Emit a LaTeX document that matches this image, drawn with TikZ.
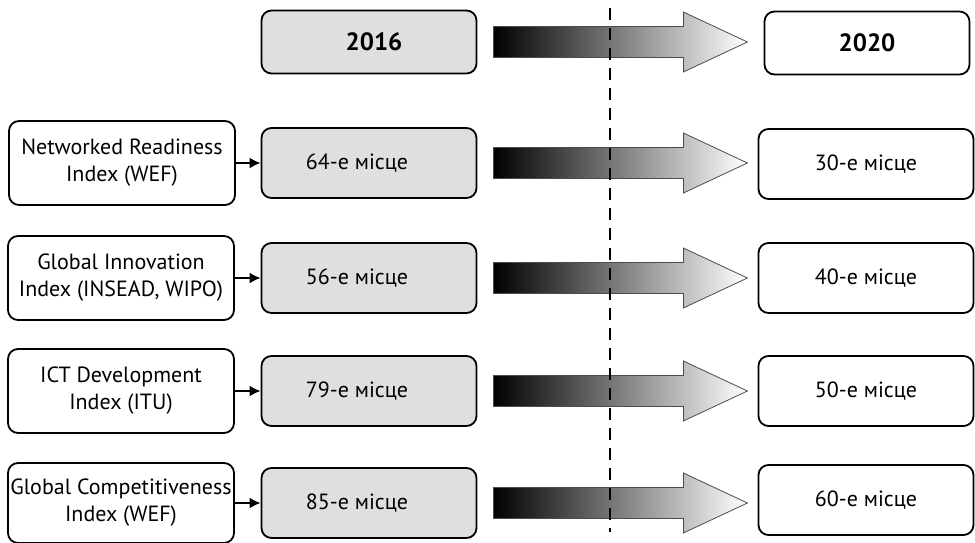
\documentclass[tikz,border=0pt]{standalone}
\usepackage{fontspec}
\setmainfont{PT Sans}
\usetikzlibrary{arrows.meta}
\usetikzlibrary{calc}
\definecolor{boxgray}{RGB}{222,223,222}
% shaded arrow starting right of a rank box
\newcommand{\rankarrow}[1]{%
  \shade[left color=black, right color=white, draw=black!70, line width=0.8pt]
    ($(#1.east)+(16,-15.5)$) -- ++(190,0) -- ++(0,-14.5) -- ++(64,30)
    -- ++(-64,30) -- ++(0,-14.5) -- ++(-190,0) -- cycle;}

\begin{document}
\begin{tikzpicture}[x=1pt, y=-1pt,
  box/.style = {draw, rounded corners=10pt, line width=1.8pt, inner sep=2pt},
  idx/.style = {box, align=center, minimum width=226pt, minimum height=84pt, font=\fontsize{22}{27}\selectfont},
  rank/.style = {box, minimum width=215pt, minimum height=70pt, font=\fontsize{22}{27}\selectfont},
  oldrank/.style = {rank, fill=boxgray, execute at begin node={\hspace*{-24pt}}},
  year/.style = {box, minimum height=63pt, font=\fontsize{25}{30}\selectfont\bfseries},
  link/.style = {-{Latex[length=11pt,width=11pt]}, line width=2pt}]
  \useasboundingbox (0,0) rectangle (975,543);

  % header
  \node[year, fill=boxgray, minimum width=215pt] (y16) at (369,42) {\hspace*{10pt}2016};
  \node[year, minimum width=205pt] (y20) at (867,43) {2020};

  % rows
  \node[idx] (i1) at (122,163) {Networked Readiness\\Index (WEF)};
  \node[oldrank] (a1) at (369,163) {64-е місце};
  \node[rank] (b1) at (866,164) {30-е місце};

  \node[idx] (i2) at (121,278) {Global Innovation\\Index (INSEAD, WIPO)};
  \node[oldrank] (a2) at (369,278) {56-е місце};
  \node[rank] (b2) at (866,278) {40-е місце};

  \node[idx] (i3) at (121,391) {ICT Development\\Index (ITU)};
  \node[oldrank] (a3) at (369,391) {79-е місце};
  \node[rank] (b3) at (866,391) {50-е місце};

  \node[idx, minimum height=80pt] (i4) at (121,503) {Global Competitiveness\\Index (WEF)};
  \node[oldrank] (a4) at (369,503) {85-е місце};
  \node[rank] (b4) at (866,500) {60-е місце};

  \draw[link] (i1) -- (a1);
  \draw[link] (i2) -- (a2);
  \draw[link] (i3) -- (a3);
  \draw[link] (i4) -- (a4);

  \foreach \n in {y16,a1,a2,a3,a4} \rankarrow{\n};

  % time line
  \coordinate (dtop) at (610,8);
  \coordinate (dbot) at (610,532);
  \draw[line width=1.5pt, dash pattern=on 12pt off 8pt] (dtop) -- (dbot);
\end{tikzpicture}
\end{document}
